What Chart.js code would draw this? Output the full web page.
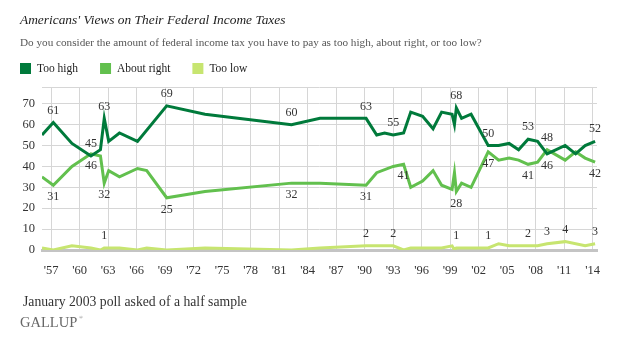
<!DOCTYPE html>
<html>
<head>
<meta charset="utf-8">
<script src="https://cdn.jsdelivr.net/npm/chart.js@4/dist/chart.umd.min.js"></script>
<style>
  body { margin: 0; background: #fff; }
  #wrap { width: 618px; height: 352px; }
</style>
</head>
<body>
<div id="wrap"><canvas id="taxChart" width="618" height="352"></canvas></div>
<script>
// survey dates (decimal years)
const years = [1956.05, 1957.24, 1959.2, 1961.2, 1962.2, 1962.6, 1963.07, 1964.2, 1966.1, 1967.07,
  1969.17, 1973.2, 1982.3, 1985.3, 1990.15, 1991.27, 1992.1, 1993.0, 1994.1, 1994.85,
  1996.1, 1997.2, 1998.1, 1999.2, 1999.45, 1999.65, 2000.2, 2001.2, 2003.0, 2004.1,
  2005.2, 2006.2, 2007.2, 2008.2, 2009.2, 2011.1, 2012.2, 2013.2, 2014.25];

const tooHigh = [55, 61, 51, 45, 48, 63, 52, 56, 52, null,
  69, 65, 60, 63, 63, 55, 56, 55, 56, 66,
  64, 58, 66, 65, 60, 68, 63, 65, 50, 50,
  51, 48, 53, 52, 46, 50, 46, 50, 52];

const aboutRight = [35, 31, 40, 46, 45, 32, 38, 35, 39, 38,
  25, 28, 32, 32, 31, 37, null, 40, 41, 30,
  33, 38, 31, 29, 37, 28, 32, 30, 47, 43,
  44, 43, 41, 42, 48, 43, 47, 44, 42];

const tooLow = [1, 0, 2, 1, 0, 1, 1, 1, 0, 1,
  0, 1, 0, 1, 2, 2, null, 2, 0, 1,
  1, 1, 1, 2, 0, 1, 1, 1, 1, 3,
  2, 2, 2, 2, 3, 4, null, 2, 3];

const seriesNames = ['Too high', 'About right', 'Too low'];
const tickYears = [1957, 1960, 1963, 1966, 1969, 1972, 1975, 1978, 1981, 1984, 1987, 1990,
  1993, 1996, 1999, 2002, 2005, 2008, 2011, 2014];

const titleText = "Americans' Views on Their Federal Income Taxes";
const subtitleText = "Do you consider the amount of federal income tax you have to pay as too high, about right, or too low?";
const noteText = "January 2003 poll asked of a half sample";

// which points get a value printed, and on which side (-1 above, 1 below)
const pointLabels = [
  [0, 1957.24, -1], [0, 1961.2, -1], [0, 1962.6, -1], [0, 1969.17, -1], [0, 1982.3, -1],
  [0, 1990.15, -1], [0, 1993.0, -1], [0, 1999.65, -1], [0, 2003.0, -1], [0, 2007.2, -1],
  [0, 2009.2, 1], [0, 2014.25, -1],
  [1, 1957.24, 1], [1, 1961.2, 1], [1, 1962.6, 1], [1, 1969.17, 1], [1, 1982.3, 1],
  [1, 1990.15, 1], [1, 1994.1, 1], [1, 1999.65, 1], [1, 2003.0, 1], [1, 2007.2, 1],
  [1, 2009.2, -1], [1, 2014.25, 1],
  [2, 1962.6, -1], [2, 1990.15, -1], [2, 1993.0, -1], [2, 1999.65, -1], [2, 2003.0, -1],
  [2, 2007.2, -1], [2, 2009.2, -1], [2, 2011.1, -1], [2, 2014.25, -1]
];

const serif = "'Liberation Serif', 'DejaVu Serif', serif";
const colors = ['#007a3b', '#62c04e', '#c7e570'];
const allSeries = [tooHigh, aboutRight, tooLow];

function toPoints(vals) {
  return years.map((y, i) => ({ x: y, y: vals[i] }));
}

const textPlugin = {
  id: 'textPlugin',
  afterDatasetsDraw(chart) {
    const c = chart.ctx;
    c.save();
    c.font = '12px ' + serif;
    c.fillStyle = '#333';
    c.textAlign = 'center';
    c.textBaseline = 'middle';
    pointLabels.forEach(l => {
      const i = years.indexOf(l[1]);
      const pt = chart.getDatasetMeta(l[0]).data[i];
      c.fillText(String(allSeries[l[0]][i]), pt.x, pt.y + l[2] * 12);
    });
    c.restore();
  },
  afterDraw(chart) {
    const c = chart.ctx;
    c.save();
    c.textAlign = 'left';
    c.textBaseline = 'middle';
    c.fillStyle = '#222';
    c.font = 'italic 13.4px ' + serif;
    c.fillText(titleText, 20, 20);
    c.fillStyle = '#555';
    c.font = '11.2px ' + serif;
    c.fillText(subtitleText, 20, 43);

    // legend
    let x = 20;
    c.font = '11.5px ' + serif;
    chart.data.datasets.forEach(ds => {
      c.fillStyle = ds.borderColor;
      c.fillRect(x, 63, 11, 11);
      c.fillStyle = '#222';
      c.fillText(ds.label, x + 17, 68.5);
      x += 17 + c.measureText(ds.label).width + 22;
    });

    c.fillStyle = '#333';
    c.font = '13.7px ' + serif;
    c.fillText(noteText, 23, 302);

    c.fillStyle = '#666';
    c.font = '14.5px ' + serif;
    c.fillText('GALLUP', 20, 323);
    c.font = '5px ' + serif;
    c.fillText('®', 79, 318);
    c.restore();
  }
};

new Chart(document.getElementById('taxChart'), {
  type: 'line',
  data: {
    datasets: seriesNames.map((name, k) => ({
      label: name,
      data: toPoints(allSeries[k]),
      borderColor: colors[k],
      backgroundColor: colors[k],
      borderWidth: 3,
      pointRadius: 0,
      tension: 0,
      spanGaps: true
    }))
  },
  options: {
    responsive: false,
    animation: false,
    layout: { padding: { left: 0, right: 21, top: 87, bottom: 0 } },
    plugins: {
      legend: { display: false },
      title: { display: false },
      tooltip: { enabled: false }
    },
    scales: {
      x: {
        type: 'linear',
        min: 1956.05,
        max: 2014.45,
        afterBuildTicks: s => { s.ticks = tickYears.map(v => ({ value: v })); },
        afterFit: s => { s.height = 102; },
        grid: { color: '#d6d6d6', lineWidth: 1, drawTicks: false },
        border: { display: true, color: '#c4c4c4', width: 3 },
        ticks: {
          padding: 13,
          maxRotation: 0,
          autoSkip: false,
          color: '#333',
          font: { family: serif, size: 12.5 },
          callback: v => "'" + String(v).slice(2)
        }
      },
      y: {
        min: 0,
        max: 78,
        afterFit: s => { s.width = 42; },
        grid: { color: '#d6d6d6', lineWidth: 1, drawTicks: false },
        border: { display: false },
        ticks: {
          stepSize: 10,
          padding: 7,
          color: '#333',
          font: { family: serif, size: 12.5 },
          callback: v => (v % 10 === 0 ? v : '')
        }
      }
    }
  },
  plugins: [textPlugin]
});
</script>
</body>
</html>
